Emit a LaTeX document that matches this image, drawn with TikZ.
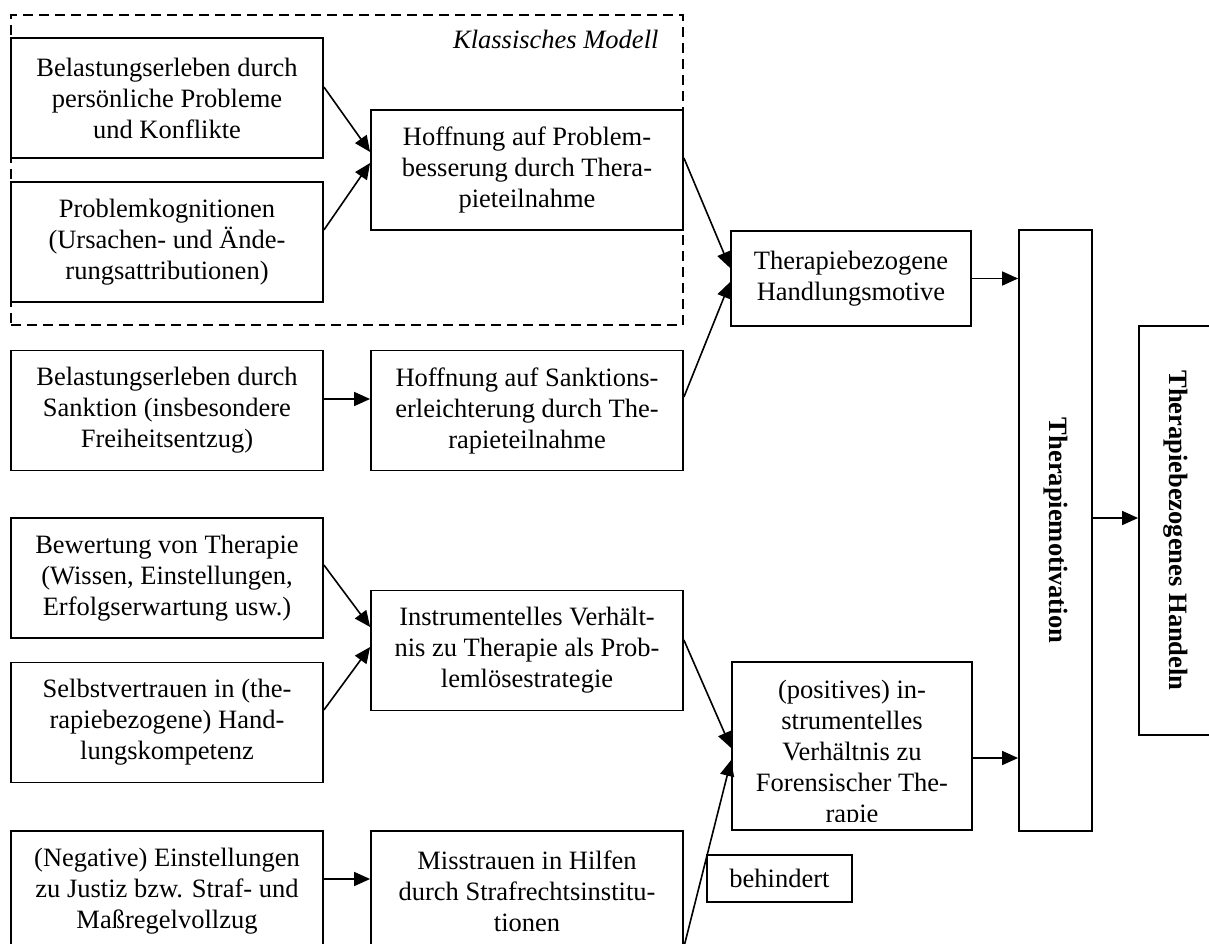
\documentclass[tikz,border=0pt]{standalone}
\usepackage{fontspec}
\setmainfont{Liberation Serif}
\usepackage{tikz}
\usetikzlibrary{positioning}
\usetikzlibrary{arrows.meta}

\begin{document}
\begin{tikzpicture}[x=1pt,y=-1pt,
  font=\fontsize{26.5}{31}\selectfont,
  box/.style={draw, line width=1.8pt, align=center, inner sep=0pt,
    minimum width=312pt, minimum height=120pt},
  pfeil/.style={-{Triangle[length=16pt,width=14pt]}, line width=1.6pt}]
\useasboundingbox (0,0) rectangle (1209,944);
\clip (0,0) rectangle (1209,944);
% klassisches Modell
\node[draw, line width=1.6pt, dash pattern=on 10pt off 6pt, inner sep=0pt,
  minimum width=672pt, minimum height=310pt] (modell) at (347,170) {};
\node[anchor=base east, font=\fontsize{26.5}{31}\selectfont\itshape] (modellText) at (662,49) {Klassisches Modell};
\node[box] (belastP) at (167,98) {Belastungserleben durch\\persönliche Probleme\\und Konflikte};
\node[box] (kognit) at (167,242) {Problemkognitionen\\(Ursachen- und Ände-\\rungsattributionen)};
\node[box] (hoffP) at (527,170) {Hoffnung auf Problem-\\besserung durch Thera-\\pieteilnahme};
\node[box, minimum width=240pt, minimum height=95pt] (motive) at (851,278.5) {Therapiebezogene\\Handlungsmotive};
% Sanktion
\node[box] (belastS) at (167,410.5) {Belastungserleben durch\\Sanktion (insbesondere\\Freiheitsentzug)};
\node[box] (hoffS) at (527,410.5) {Hoffnung auf Sanktions-\\erleichterung durch The-\\rapieteilnahme};
% instrumentelles Verhaeltnis
\node[box] (bewert) at (167,578) {Bewertung von Therapie\\(Wissen, Einstellungen,\\Erfolgserwartung usw.)};
\node[box] (selbst) at (167,722.5) {Selbstvertrauen in (the-\\rapiebezogene) Hand-\\lungskompetenz};
\node[box] (instr) at (527,650.5) {Instrumentelles Verhält-\\nis zu Therapie als Prob-\\lemlösestrategie};
\node[box, minimum width=240pt, minimum height=168pt] (posit) at (852,746) {};
\begin{scope}
\clip (733,663) rectangle (971,821);
\node[anchor=north, align=center, inner sep=0pt] (positText) at (852,680) {(positives) in-\\strumentelles\\Verhältnis zu\\Forensischer The-\\rapie};
\end{scope}
\node[box] (negat) at (167,891) {(Negative) Einstellungen\\zu Justiz bzw. Straf- und\\Maßregelvollzug};
\node[box] (misstr) at (527,891) {Misstrauen in Hilfen\\durch Strafrechtsinstitu-\\tionen};
\node[box, minimum width=145pt, minimum height=47pt] (behind) at (779.5,878.5) {behindert};
% Motivation und Handeln
\node[box, minimum width=73pt, minimum height=601pt] (tmot) at (1055.5,530.5) {\rotatebox{-90}{\bfseries Therapiemotivation}};
\node[box, minimum width=73pt, minimum height=409pt] (handeln) at (1175.5,530.5) {\rotatebox{-90}{\bfseries Therapiebezogenes Handeln}};

\draw[pfeil] ([yshift=11pt]belastP.east) -- ([yshift=18pt]hoffP.west);
\draw[pfeil] ([yshift=12pt]kognit.east) -- ([yshift=7pt]hoffP.west);
\draw[pfeil] ([yshift=12pt]hoffP.east) -- ([yshift=10.5pt]motive.west);
\draw[pfeil] ([yshift=11.5pt]belastS.east) -- ([yshift=11.5pt]hoffS.west);
\draw[pfeil] ([yshift=13.5pt]hoffS.east) -- ([yshift=-3.5pt]motive.west);
\draw[pfeil] (motive.east) -- (motive.east -| tmot.west);
\draw[pfeil] ([yshift=13pt]bewert.east) -- ([yshift=23.5pt]instr.west);
\draw[pfeil] ([yshift=12.5pt]selbst.east) -- ([yshift=3.5pt]instr.west);
\draw[pfeil] ([yshift=10.5pt]instr.east) -- ([yshift=-2pt]posit.west);
\draw[pfeil] ([yshift=12pt]negat.east) -- ([yshift=12pt]misstr.west);
\draw[pfeil] ([yshift=-56pt]misstr.east) -- ([yshift=-14pt]posit.west);
\draw[pfeil] ([yshift=-12pt]posit.east) -- ([yshift=-12pt]posit.east -| tmot.west);
\draw[pfeil] ([yshift=12.5pt]tmot.east) -- ([yshift=12.5pt]tmot.east -| handeln.west);
\end{tikzpicture}
\end{document}
